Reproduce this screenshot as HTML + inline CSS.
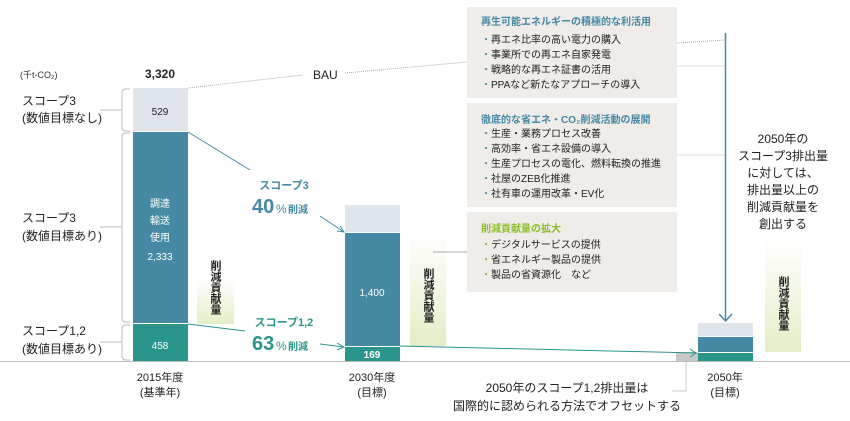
<!DOCTYPE html>
<html><head><meta charset="utf-8"><style>
html,body{margin:0;padding:0;background:#fff}
svg{display:block;font-family:"Liberation Sans","Noto Sans CJK JP",sans-serif}
</style></head><body>
<svg width="850" height="421" viewBox="0 0 850 421" xmlns="http://www.w3.org/2000/svg">
<defs>
<linearGradient id="g" x1="0" y1="0" x2="0" y2="1">
<stop offset="0" stop-color="#e6efcc" stop-opacity="0"/>
<stop offset="1" stop-color="#e2eec6"/>
</linearGradient>
</defs>
<!-- axis -->
<line x1="0" y1="361.5" x2="850" y2="361.5" stroke="#bbb" stroke-width="1"/>
<!-- left labels -->
<text x="20" y="78" font-size="9" fill="#333">(千t-CO₂)</text>
<text x="160" y="78" font-size="12" fill="#222" text-anchor="middle" font-weight="bold">3,320</text>
<text x="22" y="105" font-size="12" fill="#222">スコープ3</text>
<text x="22" y="122" font-size="12" fill="#222">(数値目標なし)</text>
<text x="22" y="222" font-size="12" fill="#222">スコープ3</text>
<text x="22" y="240" font-size="12" fill="#222">(数値目標あり)</text>
<text x="22" y="335" font-size="12" fill="#222">スコープ1,2</text>
<text x="22" y="353" font-size="12" fill="#222">(数値目標あり)</text>
<!-- braces -->
<g stroke="#bbb" fill="none" stroke-width="1">
<path d="M130,89 H126 Q122,89 122,93 V127 Q122,131 126,131 H130"/>
<line x1="100" y1="110" x2="122" y2="110"/>
<path d="M130,133 H126 Q122,133 122,137 V318 Q122,322 126,322 H130"/>
<line x1="100" y1="227" x2="122" y2="227"/>
<path d="M130,325 H126 Q122,325 122,329 V356 Q122,360 126,360 H130"/>
<line x1="100" y1="342" x2="122" y2="342"/>
</g>
<!-- 2015 bar -->
<rect x="133" y="88" width="55" height="43" fill="#e0e5ec"/>
<rect x="133" y="132" width="55" height="191" fill="#4689a4"/>
<rect x="133" y="324" width="55" height="37" fill="#2a958a"/>
<text x="160" y="115" font-size="10" fill="#222" text-anchor="middle">529</text>
<g font-size="10" fill="#fff" text-anchor="middle">
<text x="160" y="207">調達</text><text x="160" y="224">輸送</text><text x="160" y="241">使用</text><text x="160" y="260">2,333</text>
<text x="160" y="349">458</text></g>
<rect x="197" y="280" width="37" height="44" fill="url(#g)"/>
<text font-size="11" fill="#222" writing-mode="tb" x="215" y="260" style="writing-mode:vertical-rl" font-weight="bold">削減貢献量</text>
<!-- 2030 bar -->
<rect x="345" y="205" width="55" height="27" fill="#e0e5ec"/>
<rect x="345" y="233" width="55" height="113" fill="#4689a4"/>
<rect x="345" y="347" width="55" height="14" fill="#2a958a"/>
<text x="372" y="296" font-size="10" fill="#fff" text-anchor="middle">1,400</text>
<text x="372" y="358" font-size="10" fill="#fff" text-anchor="middle" font-weight="bold">169</text>
<rect x="410" y="230" width="36" height="116" fill="url(#g)"/>
<text font-size="11" fill="#222" x="428" y="268" style="writing-mode:vertical-rl" font-weight="bold">削減貢献量</text>
<!-- 2050 bar -->
<rect x="676" y="352" width="22" height="9" fill="#c8c8c8"/>
<rect x="698" y="323" width="55" height="13" fill="#e0e5ec"/>
<rect x="698" y="337" width="55" height="15" fill="#4689a4"/>
<rect x="698" y="353" width="55" height="8" fill="#2a958a"/>
<rect x="765" y="235" width="36" height="117" fill="url(#g)"/>
<text font-size="11" fill="#222" x="783" y="276" style="writing-mode:vertical-rl" font-weight="bold">削減貢献量</text>
<!-- year labels -->
<g font-size="11" fill="#222" text-anchor="middle">
<text x="160" y="381">2015年度</text><text x="160" y="396">(基準年)</text>
<text x="372" y="381">2030年度</text><text x="372" y="396">(目標)</text>
<text x="725" y="381">2050年</text><text x="725" y="396">(目標)</text>
</g>
<!-- connectors -->
<line x1="188" y1="88" x2="303" y2="75" stroke="#aaa" stroke-dasharray="1,1"/>
<text x="313" y="79" font-size="12" fill="#222">BAU</text>
<line x1="345" y1="73" x2="467" y2="62" stroke="#aaa" stroke-dasharray="1,1"/>
<line x1="188" y1="132" x2="250" y2="170" stroke="#4689a4"/>
<line x1="320" y1="216" x2="344" y2="232" stroke="#4689a4"/>
<path d="M337,231 L344,232 L340,226" fill="none" stroke="#4689a4"/>
<text x="284" y="189" font-size="11" fill="#4689a4" text-anchor="middle" font-weight="bold">スコープ3</text>
<text x="252" y="213" font-size="20" fill="#4689a4" font-weight="bold">40</text><text x="276" y="213" font-size="12" fill="#4689a4">%</text><text x="288" y="213" font-size="10" fill="#4689a4" font-weight="bold">削減</text>
<line x1="188" y1="324" x2="245" y2="331" stroke="#2a958a"/>
<line x1="320" y1="344" x2="344" y2="347" stroke="#2a958a"/>
<path d="M337,343 L344,347 L337,350" fill="none" stroke="#2a958a"/>
<text x="284" y="326" font-size="11" fill="#2a958a" text-anchor="middle" font-weight="bold">スコープ1,2</text>
<text x="252" y="350" font-size="20" fill="#2a958a" font-weight="bold">63</text><text x="276" y="350" font-size="12" fill="#2a958a">%</text><text x="288" y="350" font-size="10" fill="#2a958a" font-weight="bold">削減</text>
<line x1="400" y1="346" x2="696" y2="353" stroke="#2a958a"/>
<path d="M690,349 L696,353 L690,357" fill="none" stroke="#2a958a"/>
<!-- boxes -->
<rect x="467" y="7" width="210" height="91" fill="#efecea"/>
<rect x="467" y="103" width="210" height="104" fill="#efecea"/>
<rect x="467" y="212" width="210" height="80" fill="#efecea"/>
<g font-size="10" fill="#222">
<text x="481" y="25" fill="#4689a4" font-weight="bold">再生可能エネルギーの積極的な利活用</text>
<text x="481" y="43"><tspan fill="#4689a4">・</tspan>再エネ比率の高い電力の購入</text>
<text x="481" y="58"><tspan fill="#4689a4">・</tspan>事業所での再エネ自家発電</text>
<text x="481" y="73"><tspan fill="#4689a4">・</tspan>戦略的な再エネ証書の活用</text>
<text x="481" y="88"><tspan fill="#4689a4">・</tspan>PPAなど新たなアプローチの導入</text>
<text x="481" y="123" fill="#4689a4" font-weight="bold">徹底的な省エネ・CO₂削減活動の展開</text>
<text x="481" y="137"><tspan fill="#4689a4">・</tspan>生産・業務プロセス改善</text>
<text x="481" y="152"><tspan fill="#4689a4">・</tspan>高効率・省エネ設備の導入</text>
<text x="481" y="167"><tspan fill="#4689a4">・</tspan>生産プロセスの電化、燃料転換の推進</text>
<text x="481" y="182"><tspan fill="#4689a4">・</tspan>社屋のZEB化推進</text>
<text x="481" y="197"><tspan fill="#4689a4">・</tspan>社有車の運用改革・EV化</text>
<text x="481" y="232" fill="#8cbe2a" font-weight="bold">削減貢献量の拡大</text>
<text x="481" y="248"><tspan fill="#8cbe2a">・</tspan>デジタルサービスの提供</text>
<text x="481" y="263"><tspan fill="#8cbe2a">・</tspan>省エネルギー製品の提供</text>
<text x="481" y="278"><tspan fill="#8cbe2a">・</tspan>製品の省資源化　など</text>
</g>
<line x1="433" y1="252" x2="467" y2="252" stroke="#aaa"/>
<line x1="677" y1="43" x2="725" y2="40" stroke="#aaa" stroke-dasharray="1,1"/>
<line x1="677" y1="66" x2="725" y2="66" stroke="#ddd"/>
<line x1="677" y1="155" x2="725" y2="155" stroke="#ddd"/>
<line x1="725.5" y1="33" x2="725.5" y2="321" stroke="#4689a4" stroke-width="1.5"/>
<path d="M719,314 L725.5,321 L732,314" fill="none" stroke="#4689a4" stroke-width="1.5"/>
<g font-size="12" fill="#222" text-anchor="middle">
<text x="783" y="143">2050年の</text><text x="783" y="160">スコープ3排出量</text><text x="783" y="177">に対しては、</text><text x="783" y="194">排出量以上の</text><text x="783" y="211">削減貢献量を</text><text x="783" y="228">創出する</text>
</g>
<text x="567" y="392" font-size="12" fill="#222" text-anchor="middle">2050年のスコープ1,2排出量は</text>
<text x="567" y="410" font-size="12" fill="#222" text-anchor="middle">国際的に認められる方法でオフセットする</text>
<path d="M672,391 H686 V362" fill="none" stroke="#ccc"/>
</svg>
</body></html>
